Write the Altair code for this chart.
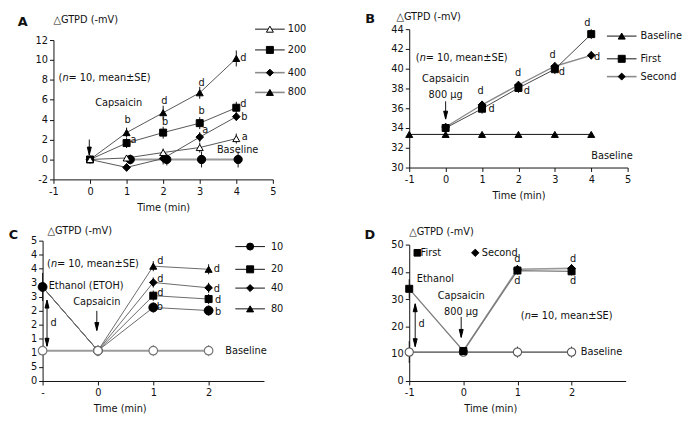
import altair as alt
import pandas as pd

FONT = "DejaVu Sans Condensed"
INK = "#111111"

# ---------------- data ----------------
# Panel A
A_T = [0, 1, 2, 3, 4]
A_100 = [0.0, 0.15, 0.7, 1.2, 2.1]
A_100_SE = [0.2, 0.3, 0.4, 0.5, 0.5]
A_200 = [0.0, 1.65, 2.7, 3.65, 5.2]
A_200_SE = [0.2, 0.5, 0.6, 0.6, 0.6]
A_400 = [0.0, -0.8, 0.1, 2.25, 4.3]
A_400_SE = [0.2, 0.4, 0.6, 0.5, 0.4]
A_800 = [0.0, 2.7, 4.7, 6.7, 10.15]
A_800_SE = [0.2, 0.5, 0.7, 0.6, 0.8]
A_BASE_T = [1.1, 2.1, 3.05, 4.05]
A_BASE = [0.0, 0.0, 0.0, 0.0]
A_BASE_SE = [0.5, 0.6, 0.8, 0.8]
A_LEGEND = ["100", "200", "400", "800"]

# Panel B
B_T = [0, 1, 2, 3, 4]
B_FIRST = [34.0, 35.95, 38.05, 39.95, 43.5]
B_FIRST_SE = [0.3, 0.5, 0.5, 0.5, 0.5]
B_SECOND = [34.1, 36.35, 38.35, 40.25, 41.35]
B_SECOND_SE = [0.3, 0.4, 0.4, 0.4, 0.4]
B_BASE_T = [-1, 0, 1, 2, 3, 4]
B_BASE = [33.35, 33.35, 33.35, 33.35, 33.35, 33.35]
B_LEGEND = ["Baseline", "First", "Second"]

# Panel C
C_PRE_T = [-1, 0]
C_PRE = [33.5, 10.8]
C_PRE_SE = [5.0, 1.0]
C_T = [1, 2]
C_10 = [26.2, 25.1]
C_20 = [30.4, 29.2]
C_40 = [35.1, 33.2]
C_80 = [40.9, 39.8]
C_SE = [1.8, 1.8]
C_BASE_T = [-1, 0, 1, 2]
C_BASE = [10.8, 10.8, 10.8, 10.8]
C_BASE_SE = [2.0, 2.0, 2.0, 2.0]
C_LEGEND = ["10", "20", "40", "80"]

# Panel D
D_FIRST_T = [-1, 0, 1, 2]
D_FIRST = [33.8, 11.0, 40.5, 40.2]
D_FIRST_SE = [3.5, 1.0, 1.5, 1.5]
D_SECOND_T = [0, 1, 2]
D_SECOND = [11.0, 41.0, 41.3]
D_SECOND_SE = [1.0, 1.5, 1.5]
D_BASE_T = [-1, 0, 1, 2]
D_BASE = [10.6, 10.6, 10.6, 10.6]
D_BASE_SE = [4.0, 1.0, 2.0, 2.0]

ONE = pd.DataFrame({"k": [0]})
DOWN_HEAD = "M-0.5,-2L0.5,-2L0,0Z"
UP_HEAD = "M-0.5,2L0.5,2L0,0Z"
NEG_EXPR = "datum.value < 0 ? '-' + format(-datum.value, 'd') : datum.label"


def frame(ts, vs, se=None):
    d = {"t": ts, "v": vs}
    if se is not None:
        d["lo"] = [v - e for v, e in zip(vs, se)]
        d["hi"] = [v + e for v, e in zip(vs, se)]
    return pd.DataFrame(d)


class Panel:
    def __init__(self, xdom, ydom, xvals, yvals, xrange, yrange, xexpr=NEG_EXPR, yexpr=NEG_EXPR,
                 title_x=None, yoffset=0):
        xa = dict(values=xvals, title="Time (min)", titlePadding=5, labelExpr=xexpr)
        if title_x is not None:
            xa["titleX"] = title_x
        ya = dict(values=yvals, title=None, labelExpr=yexpr, offset=yoffset)
        self.xs = alt.Scale(domain=xdom, nice=False, zero=False, range=xrange)
        self.ys = alt.Scale(domain=ydom, nice=False, zero=False, range=yrange)
        self.xa = alt.Axis(**xa)
        self.ya = alt.Axis(**ya)
        self.layers = []

    def X(self, f="t"):
        return alt.X(f + ":Q", scale=self.xs, axis=self.xa)

    def Y(self, f="v"):
        return alt.Y(f + ":Q", scale=self.ys, axis=self.ya)

    def line(self, df, color, width=1.0):
        self.layers.append(alt.Chart(df).mark_line(color=color, strokeWidth=width)
                           .encode(x=self.X(), y=self.Y()))

    def err(self, df, color=INK):
        self.layers.append(alt.Chart(df).mark_rule(color=color, strokeWidth=1)
                           .encode(x=self.X(), y=self.Y("lo"), y2="hi:Q"))

    def pts(self, df, shape, size=55, fill="black", stroke="black", sw=1.0):
        self.layers.append(alt.Chart(df).mark_point(shape=shape, size=size, filled=True, fill=fill,
                                                    stroke=stroke, strokeWidth=sw, opacity=1)
                           .encode(x=self.X(), y=self.Y()))

    def text(self, ts, vs, ss, align="center", size=11, style="normal", dx=0):
        df = pd.DataFrame({"t": ts, "v": vs, "s": ss})
        self.layers.append(alt.Chart(df).mark_text(font=FONT, fontSize=size, align=align, baseline="middle",
                                                   color=INK, fontStyle=style, dx=dx)
                           .encode(x=self.X(), y=self.Y(), text="s:N"))

    def nse(self, t, v):
        self.text([t], [v], ["("], align="left")
        self.text([t], [v], ["n"], align="left", style="italic", dx=4)
        self.text([t], [v], [" = 10, mean\u00b1SE)"], align="left", dx=10)

    def arrow(self, t, top, tip):
        df = pd.DataFrame({"t": [t], "a": [top], "b": [tip], "v": [tip]})
        self.layers.append(alt.Chart(df).mark_rule(color=INK, strokeWidth=1)
                           .encode(x=self.X(), y=self.Y("a"), y2="b:Q"))
        self.pts(df[["t", "v"]], DOWN_HEAD, size=64)

    def darrow(self, t, top, bottom):
        df = pd.DataFrame({"t": [t], "a": [top], "b": [bottom]})
        self.layers.append(alt.Chart(df).mark_rule(color=INK, strokeWidth=1)
                           .encode(x=self.X(), y=self.Y("a"), y2="b:Q"))
        self.pts(pd.DataFrame({"t": [t], "v": [top]}), UP_HEAD, size=64)
        self.pts(pd.DataFrame({"t": [t], "v": [bottom]}), DOWN_HEAD, size=64)

    def ptext(self, x, y, s, align="left", size=11, weight="normal"):
        self.layers.append(alt.Chart(ONE).mark_text(font=FONT if weight == "normal" else "DejaVu Sans",
                                                    fontSize=size, align=align, baseline="middle",
                                                    color=INK, fontWeight=weight)
                           .encode(x=alt.value(x), y=alt.value(y), text=alt.value(s)))

    def legend_row(self, x0, x1, xs, xt, y, shape, label, lcolor=INK, fill="black", lw=1.0):
        self.layers.append(alt.Chart(ONE).mark_rule(color=lcolor, strokeWidth=lw)
                           .encode(x=alt.value(x0), x2=alt.value(x1), y=alt.value(y)))
        self.layers.append(alt.Chart(ONE).mark_point(shape=shape, size=50, filled=True, fill=fill,
                                                     stroke="black", strokeWidth=1, opacity=1)
                           .encode(x=alt.value(xs), y=alt.value(y)))
        self.ptext(xt, y, label)

    def bounds(self, x0, y0, x1, y1):
        self.layers.append(alt.Chart(ONE).mark_rule(opacity=0, strokeWidth=0.01)
                           .encode(x=alt.value(x0), x2=alt.value(x1), y=alt.value(y0), y2=alt.value(y1)))

    def chart(self, w, h):
        return alt.layer(*self.layers).properties(width=w, height=h)


# ---------------- Panel A (origin page 53,27) ----------------
pa = Panel([-1, 5], [-2, 12], [-1, 0, 1, 2, 3, 4, 5], [-2, 0, 2, 4, 6, 8, 10, 12],
           xrange=[0, 222], yrange=[152, 11])
pa.bounds(-45, -19, 0, 0)
pa.line(frame(A_BASE_T, A_BASE), "#9a9a9a", 2)
for vals in [A_100, A_200, A_400, A_800]:
    pa.line(frame(A_T, vals), "#555555", 1)
for vals, se in [(A_100, A_100_SE), (A_200, A_200_SE), (A_400, A_400_SE), (A_800, A_800_SE)]:
    pa.err(frame(A_T, vals, se))
pa.err(frame(A_BASE_T, A_BASE, A_BASE_SE))
pa.pts(frame(A_BASE_T, A_BASE), "circle", 70)
pa.pts(frame(A_T, A_400), "diamond", 60)
pa.pts(frame(A_T, A_200), "square", 50)
pa.pts(frame(A_T, A_800), "triangle-up", 50)
pa.pts(frame(A_T, A_100), "triangle-up", 50, fill="white")
pa.text([1.03, 1.19, 2.03, 2.05, 3.05, 3.05, 3.15, 4.19, 4.22, 4.23, 4.19],
        [3.95, 1.95, 5.85, 3.75, 7.65, 4.85, 2.95, 5.6, 4.25, 2.25, 10.2],
        ["b", "a", "d", "b", "d", "b", "a", "d", "b", "a", "d"])
pa.nse(-0.86, 8.2)
pa.text([0.14], [5.7], ["Capsaicin"], align="left")
pa.text([3.47], [0.95], ["Baseline"], align="left")
pa.arrow(-0.02, 2.0, 0.45)
pa.ptext(-31, -7, "A", align="center", size=13, weight="bold")
pa.ptext(0, -9, "\u25b3GTPD (-mV)")
for i, (shp, fill, lc, lw) in enumerate([("triangle-up", "white", INK, 1.0),
                                         ("square", "black", INK, 1.0),
                                         ("diamond", "black", "#8a8a8a", 1.6),
                                         ("triangle-up", "black", "#8a8a8a", 1.6)]):
    pa.legend_row(204, 234, 219, 237, [0, 21, 44, 64][i], shp, A_LEGEND[i], lcolor=lc, fill=fill, lw=lw)
chart_a = pa.chart(222, 152)

# ---------------- Panel B (origin page 413,27) ----------------
pb = Panel([-1, 5], [30, 44], [-1, 0, 1, 2, 3, 4, 5], [30, 32, 34, 36, 38, 40, 42, 44],
           xrange=[0, 221], yrange=[140, 0])
pb.line(frame(B_BASE_T, B_BASE), INK, 1)
pb.line(frame(B_T, B_SECOND), "#8a8a8a", 1.4)
pb.line(frame(B_T, B_FIRST), "#444444", 1)
pb.err(frame(B_T, B_FIRST, B_FIRST_SE))
pb.err(frame(B_T, B_SECOND, B_SECOND_SE))
pb.pts(frame(B_BASE_T, B_BASE), "triangle-up", 50)
pb.pts(frame(B_T, B_FIRST), "square", 50)
pb.pts(frame(B_T, B_SECOND), "diamond", 60)
pb.text([0.96, 1.26, 1.99, 2.23, 2.94, 3.19, 3.89, 4.16],
        [37.7, 35.87, 39.52, 37.76, 41.35, 39.62, 44.66, 41.18],
        ["d"] * 8)
pb.nse(-0.82, 41.1)
pb.text([0.0], [39.0], ["Capsaicin"])
pb.text([0.0], [37.3], ["800 \u03bcg"])
pb.arrow(0.0, 36.7, 34.9)
pb.text([4.57], [31.16], ["Baseline"])
pb.ptext(-39.5, -10, "B", align="center", size=13, weight="bold")
pb.ptext(-13, -12, "\u25b3GTPD (-mV)")
for i, (shp, lc, lw) in enumerate([("triangle-up", INK, 1.0), ("square", INK, 1.0), ("diamond", "#8a8a8a", 1.6)]):
    pb.legend_row(200, 230, 215, 234, [7, 30, 48][i], shp, B_LEGEND[i], lcolor=lc, lw=lw)
chart_b = pb.chart(221, 140)

# ---------------- Panel C (origin page 53,241; axis at page 42) ----------------
pc = Panel([-1, 3], [0, 50], [-1, 0, 1, 2], list(range(0, 51, 5)),
           xrange=[-11, 213], yrange=[142, 0],
           xexpr="datum.value == -1 ? '-' : datum.label",
           yexpr="substring(datum.label, 0, 1)", title_x=67, yoffset=11)
pc.line(frame(C_BASE_T, C_BASE), "#9a9a9a", 2)
for vals in [C_10, C_20, C_40, C_80]:
    pc.line(frame(C_PRE_T + C_T, C_PRE + vals), "#6a6a6a", 1)
pc.err(frame(C_PRE_T, C_PRE, C_PRE_SE))
for vals in [C_10, C_20, C_40, C_80]:
    pc.err(frame(C_T, vals, C_SE))
pc.err(frame(C_BASE_T, C_BASE, C_BASE_SE), color="#8a8a8a")
pc.pts(frame(C_PRE_T, C_PRE), "circle", 80)
pc.pts(frame(C_T, C_10), "circle", 80)
pc.pts(frame(C_T, C_20), "square", 50)
pc.pts(frame(C_T, C_40), "diamond", 60)
pc.pts(frame(C_T, C_80), "triangle-up", 50)
pc.pts(frame(C_BASE_T, C_BASE), "circle", 75, fill="white", stroke="#777777", sw=1.2)
pc.text([1.13, 1.13, 1.13, 1.12, 2.15, 2.15, 2.17, 2.17],
        [42.6, 36.5, 31.4, 26.2, 40.0, 32.9, 28.8, 24.7],
        ["d", "d", "d", "b", "d", "d", "d", "b"])
pc.text([-0.8], [20.5], ["d"])
pc.darrow(-0.92, 28.8, 12.4)
pc.text([-0.89], [33.9], ["Ethanol (ETOH)"], align="left")
pc.nse(-0.92, 41.8)
pc.text([-0.02], [28.0], ["Capsaicin"])
pc.arrow(-0.02, 25.0, 18.0)
pc.text([2.3], [10.6], ["Baseline"], align="left")
pc.ptext(-40.5, -6, "C", align="center", size=13, weight="bold")
pc.ptext(-6, -10, "\u25b3GTPD (-mV)")
for i, shp in enumerate(["circle", "square", "diamond", "triangle-up"]):
    pc.legend_row(184, 214, 199, 220, [6, 29, 48, 69][i], shp, C_LEGEND[i])
chart_c = pc.chart(213, 142)

# ---------------- Panel D (origin page 413,241) ----------------
pd_ = Panel([-1, 3], [0, 50], [-1, 0, 1, 2], [0, 10, 20, 30, 40, 50],
            xrange=[0, 219], yrange=[142, 4], title_x=82)
pd_.line(frame(D_BASE_T, D_BASE), INK, 1)
pd_.line(frame(D_SECOND_T, D_SECOND), "#9a9a9a", 1.6)
pd_.line(frame(D_FIRST_T, D_FIRST), "#7a7a7a", 1.3)
pd_.err(frame(D_FIRST_T, D_FIRST, D_FIRST_SE))
pd_.err(frame(D_SECOND_T, D_SECOND, D_SECOND_SE))
pd_.err(frame(D_BASE_T, D_BASE, D_BASE_SE))
pd_.pts(frame(D_BASE_T, D_BASE), "circle", 70, fill="white", stroke="#555555", sw=1.1)
pd_.pts(frame(D_SECOND_T, D_SECOND), "diamond", 60)
pd_.pts(frame(D_FIRST_T, D_FIRST), "square", 50)
pd_.text([1.0, 1.0, 2.03, 2.03], [44.6, 36.7, 44.6, 36.7], ["d", "d", "d", "d"])
pd_.text([-0.77], [21.0], ["d"])
pd_.darrow(-0.89, 28.3, 12.6)
pd_.text([-0.86], [37.3], ["Ethanol"], align="left")
pd_.text([-0.04], [31.3], ["Capsaicin"])
pd_.text([-0.04], [25.3], ["800 \u03bcg"])
pd_.arrow(-0.04, 23.5, 16.0)
pd_.nse(1.06, 23.7)
pd_.text([2.17], [10.6], ["Baseline"], align="left")
pd_.pts(pd.DataFrame({"t": [-0.85], "v": [47.0]}), "square", 45)
pd_.text([-0.79], [47.0], ["First"], align="left")
pd_.pts(pd.DataFrame({"t": [0.22], "v": [47.0]}), "diamond", 55)
pd_.text([0.34], [47.0], ["Second"], align="left")
pd_.ptext(-40, -6, "D", align="center", size=13, weight="bold")
pd_.ptext(0, -9, "\u25b3GTPD (-mV)")
chart_d = pd_.chart(219, 142)

chart = alt.concat(
    chart_a, chart_b, chart_c, chart_d,
    columns=2, bounds="flush", align="all",
    spacing={"row": 62, "column": 138},
).properties(padding=0).configure_view(stroke=None).configure_axis(
    domainColor=INK, tickColor=INK, labelColor=INK, labelFont=FONT, labelFontSize=11,
    titleFont=FONT, titleFontSize=11, titleFontWeight="normal", titleColor=INK,
    grid=False, tickSize=4, labelFlush=False, labelOverlap=False, labelPadding=2,
)

chart.save("out.html", embed_options={"renderer": "svg", "actions": False})
